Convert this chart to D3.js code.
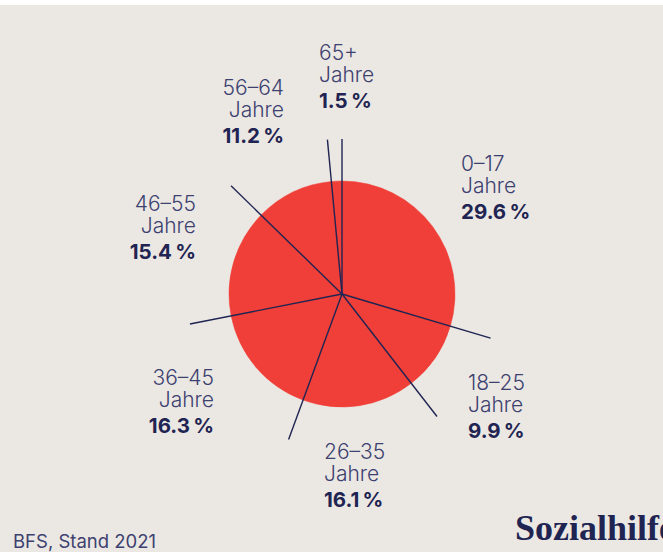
<!DOCTYPE html>
<html><head><meta charset="utf-8">
<script src="https://cdn.jsdelivr.net/npm/d3@7"></script>
<style>
html,body{margin:0;padding:0;background:#ebe8e3;}
svg{display:block;}
</style></head>
<body>
<svg id="c" width="663" height="552"></svg>
<script>
// Data
const categories = ["0–17", "18–25", "26–35", "36–45", "46–55", "56–64", "65+"];
const unitLabel = "Jahre";
const shares = [29.6, 9.9, 16.1, 16.3, 15.4, 11.2, 1.5];
const source = "BFS, Stand 2021";
const brand = "Sozialhilfe";

// Layout (label anchors, separate from data)
const labelLayout = [
  {x:461, y:171, a:"start"},
  {x:468, y:390, a:"start"},
  {x:324, y:459, a:"start"},
  {x:214, y:385, a:"end"},
  {x:196, y:211, a:"end"},
  {x:284, y:95,  a:"end"},
  {x:319, y:60,  a:"start"}
];

const svg = d3.select("#c");
svg.append("rect").attr("x",0).attr("y",0).attr("width",663).attr("height",552).attr("fill","#ebe8e3");
svg.append("rect").attr("x",0).attr("y",0).attr("width",663).attr("height",5).attr("fill","#ffffff");

const cx = 342, cy = 294, R = 113, L = 155;
const navy = "#1f2452", navyLight = "#3d4170";

const pie = d3.pie().sort(null).value(d => d).startAngle(0).endAngle(2*Math.PI);
const arcs = pie(shares);
const arc = d3.arc().innerRadius(0).outerRadius(R);

const g = svg.append("g").attr("transform", `translate(${cx},${cy})`);
g.selectAll("path.slice").data(arcs).enter().append("path")
  .attr("class","slice").attr("d", arc).attr("fill","#f03f38").attr("stroke","#f03f38").attr("stroke-width",0.5);

g.selectAll("line.sep").data(arcs).enter().append("line")
  .attr("class","sep")
  .attr("x1",0).attr("y1",0)
  .attr("x2", d => L*Math.sin(d.startAngle))
  .attr("y2", d => -L*Math.cos(d.startAngle))
  .attr("stroke", navy).attr("stroke-width",1.4);

const font = "Inter, 'Noto Sans', sans-serif";
categories.forEach((c,i) => {
  const p = labelLayout[i];
  const t = svg.append("g");
  t.append("text").attr("x",p.x).attr("y",p.y).attr("text-anchor",p.a)
    .attr("font-family",font).attr("font-weight",300).attr("font-size",21).attr("fill",navyLight).text(c);
  t.append("text").attr("x",p.x).attr("y",p.y+22).attr("text-anchor",p.a)
    .attr("font-family",font).attr("font-weight",300).attr("font-size",21).attr("fill",navyLight).text(unitLabel);
  t.append("text").attr("x",p.x).attr("y",p.y+48).attr("text-anchor",p.a)
    .attr("font-family",font).attr("font-weight",700).attr("font-size",20.5).attr("fill",navy)
    .text(d3.format(".1f")(shares[i]) + "\u2009%");
});

svg.append("text").attr("x",13).attr("y",548).attr("font-family",font).attr("font-weight",400)
  .attr("font-size",18.5).attr("fill",navyLight).text(source);
svg.append("text").attr("x",515).attr("y",540).attr("font-family","'Liberation Serif', 'DejaVu Serif', serif")
  .attr("font-weight",700).attr("font-size",36).attr("fill",navy).text(brand);
</script>
</body></html>
